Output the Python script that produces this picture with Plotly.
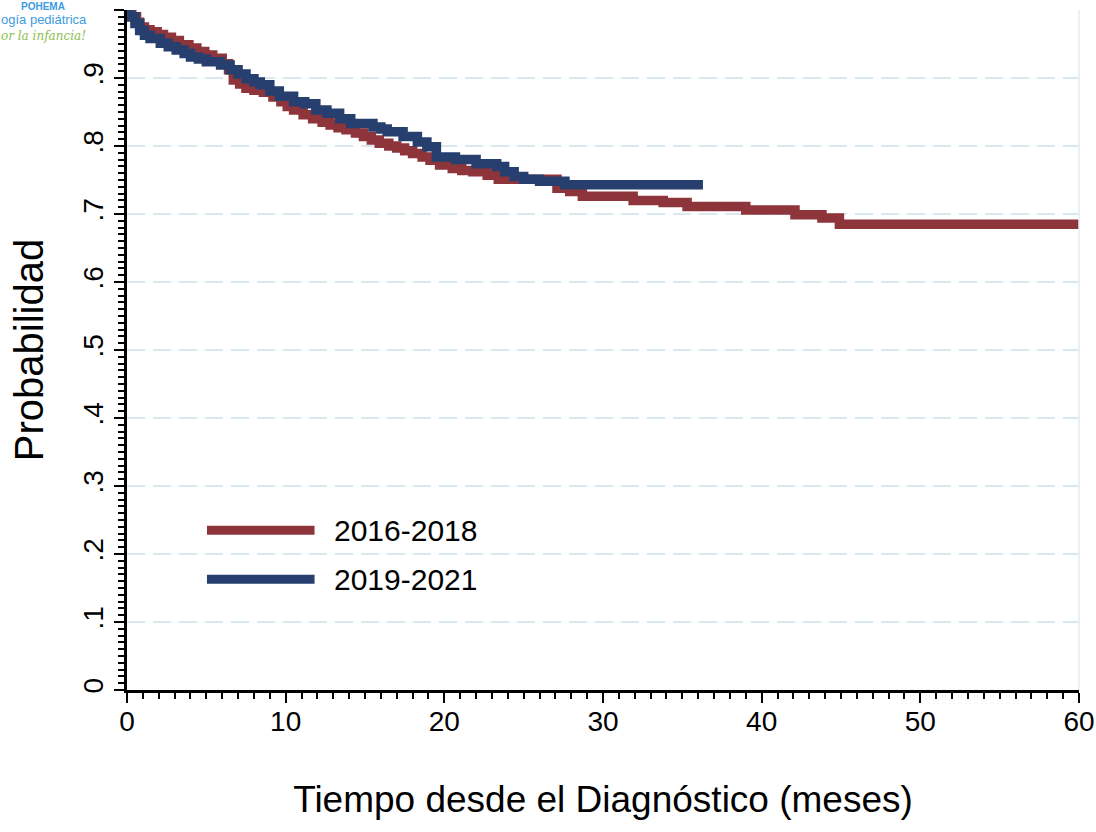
"""
Courbes de survie Kaplan-Meier par période de diagnostic.
"""

import plotly.graph_objects as go

# Temps (mois) et probabilité de survie — 2016-2018
T_2016 = [0, 0.3, 0.6, 0.8, 1.1, 1.45, 1.9, 2.3, 2.8, 3.3, 3.9, 4.4, 4.9, 5.4, 6.0, 6.4,
          6.7, 7.1, 7.5, 8.0, 8.6, 9.2, 9.7, 10.1, 10.5, 11.1, 11.7, 12.3, 12.8, 13.3, 13.8,
          14.4, 14.9, 15.4, 15.9, 16.5, 17.0, 17.5, 18.0, 18.6, 19.1, 19.7, 20.5, 21.1, 21.8,
          22.7, 23.4, 27.1, 27.9, 28.7, 31.9, 33.8, 35.3, 39.0, 42.1, 43.8, 44.9, 60.0]
S_2016 = [1.0, 0.99, 0.982, 0.975, 0.971, 0.968, 0.964, 0.96, 0.955, 0.949, 0.944, 0.939,
          0.934, 0.929, 0.921, 0.912, 0.897, 0.891, 0.885, 0.882, 0.879, 0.872, 0.865, 0.858,
          0.853, 0.846, 0.840, 0.835, 0.831, 0.827, 0.824, 0.819, 0.814, 0.809, 0.804, 0.800,
          0.797, 0.793, 0.789, 0.784, 0.779, 0.772, 0.767, 0.764, 0.762, 0.757, 0.751, 0.738,
          0.733, 0.726, 0.720, 0.717, 0.711, 0.706, 0.699, 0.694, 0.685, 0.685]

# Temps (mois) et probabilité de survie — 2019-2021
T_2019 = [0, 0.2, 0.5, 0.8, 1.1, 1.45, 2.1, 2.6, 3.1, 3.6, 4.0, 4.5, 5.0, 5.9, 6.5, 7.0,
          7.5, 8.0, 8.4, 9.0, 9.6, 10.5, 11.2, 11.9, 12.6, 13.4, 14.1, 15.5, 16.0, 16.4, 17.4,
          18.3, 18.9, 19.5, 20.7, 22.0, 23.3, 23.8, 24.4, 25.0, 26.0, 27.6, 36.3]
S_2019 = [1.0, 0.99, 0.98, 0.97, 0.963, 0.958, 0.951, 0.946, 0.941, 0.936, 0.931, 0.928,
          0.924, 0.919, 0.912, 0.906, 0.899, 0.894, 0.890, 0.881, 0.873, 0.865, 0.862, 0.853,
          0.848, 0.840, 0.833, 0.828, 0.825, 0.821, 0.814, 0.806, 0.799, 0.784, 0.780, 0.774,
          0.770, 0.762, 0.755, 0.751, 0.748, 0.743, 0.743]

Y_TICKS = [0, 0.1, 0.2, 0.3, 0.4, 0.5, 0.6, 0.7, 0.8, 0.9, 1.0]
Y_LABELS = ["0", ".1", ".2", ".3", ".4", ".5", ".6", ".7", ".8", ".9", "1"]
X_TICKS = [0, 10, 20, 30, 40, 50, 60]

SERIES = ["2016-2018", "2019-2021"]
COLORS = ["#8E353C", "#263F6E"]
FONT = "Liberation Sans, Arial, sans-serif"

fig = go.Figure()
for name, t, s, c in zip(SERIES, [T_2016, T_2019], [S_2016, S_2019], COLORS):
    fig.add_trace(go.Scatter(x=t, y=s, mode="lines", name=name,
                             line=dict(color=c, width=9.5, shape="hv")))

axis_common = dict(
    showline=True, linecolor="black", linewidth=3,
    ticks="outside", ticklen=10, tickwidth=2, tickcolor="black",
    tickfont=dict(family=FONT, size=28, color="black"),
    zeroline=False, automargin=False,
)

fig.update_xaxes(
    range=[0, 60], tickvals=X_TICKS, showgrid=False, ticklabelstandoff=-6,
    minor=dict(ticks="outside", dtick=1, ticklen=6, tickwidth=1.5, tickcolor="black"),
    title=dict(text="Tiempo desde el Diagnóstico (meses)", standoff=51,
               font=dict(family=FONT, size=37, color="black")),
    **axis_common,
)
fig.update_yaxes(
    range=[0, 1], tickvals=Y_TICKS, ticktext=Y_LABELS, tickangle=-90,
    showgrid=True, gridcolor="#d9e7ef", gridwidth=1.5, griddash="18px,8px",
    minor=dict(ticks="outside", dtick=0.01, ticklen=6, tickwidth=1.5, tickcolor="black",
               showgrid=False),
    title=dict(text="Probabilidad", standoff=22,
               font=dict(family=FONT, size=40, color="black")),
    **axis_common,
)

# légende dessinée à la main (traits longs comme dans l'original)
shapes = [dict(type="line", xref="paper", yref="paper", x0=1, x1=1, y0=0, y1=1,
               line=dict(color="#e3edf2", width=1.5))]
annotations = []
for i, (name, c) in enumerate(zip(SERIES, COLORS)):
    yy = 0.235 - i * 0.072
    shapes.append(dict(type="line", xref="paper", yref="paper", x0=0.084, x1=0.197,
                       y0=yy, y1=yy, line=dict(color=c, width=9)))
    annotations.append(dict(text=name, xref="paper", yref="paper", x=0.215, y=yy,
                            xanchor="left", yanchor="middle", showarrow=False,
                            font=dict(family=FONT, size=30, color="black")))

# logo (petit) en haut à gauche
annotations += [
    dict(text="<b>POHEMA</b>", xref="paper", yref="paper", x=-0.112, y=1.0147,
         xanchor="left", yanchor="top", showarrow=False, borderpad=0,
         font=dict(family=FONT, size=10, color="#3d9be0")),
    dict(text="ogía pediátrica", xref="paper", yref="paper", x=-0.1334, y=0.9853,
         xanchor="left", yanchor="middle", showarrow=False, borderpad=0,
         font=dict(family=FONT, size=13, color="#3d9be0")),
    dict(text="<i>or la infancia!</i>", xref="paper", yref="paper", x=-0.1334, y=0.962,
         xanchor="left", yanchor="middle", showarrow=False, borderpad=0,
         font=dict(family="DejaVu Serif, serif", size=12, color="#8cc152")),
]

fig.update_layout(
    width=1096, height=832,
    margin=dict(l=127, r=17, t=10, b=142),
    paper_bgcolor="white", plot_bgcolor="white",
    showlegend=False,
    shapes=shapes, annotations=annotations,
)

# la page a une marge de 8px par défaut : on la supprime
fig.write_html("out.html", config={"displayModeBar": False},
               post_script="document.body.style.margin = '0';")
